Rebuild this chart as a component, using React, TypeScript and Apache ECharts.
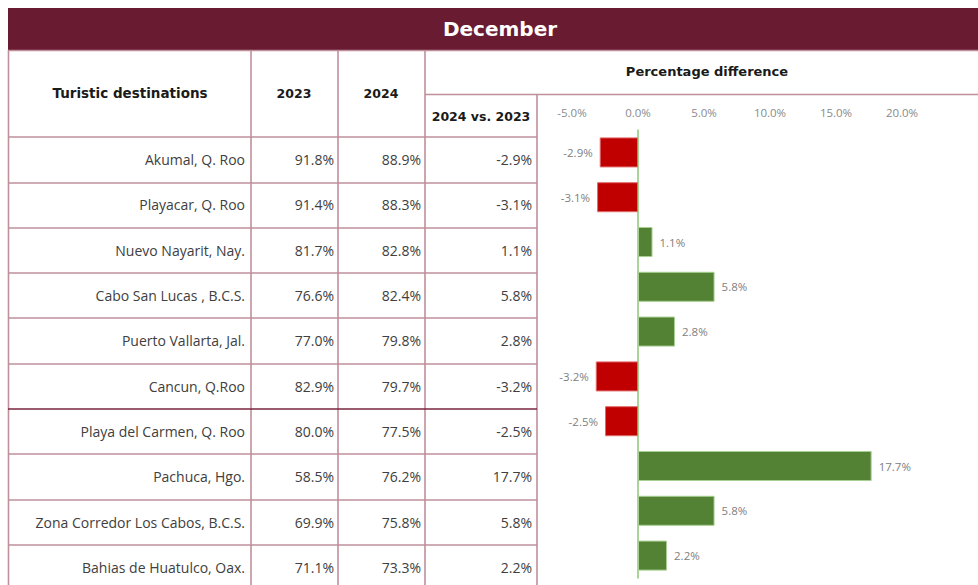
import React, { useEffect, useRef } from "react";
import * as echarts from "echarts";

const destinations = [
  "Akumal, Q. Roo",
  "Playacar, Q. Roo",
  "Nuevo Nayarit, Nay.",
  "Cabo San Lucas , B.C.S.",
  "Puerto Vallarta, Jal.",
  "Cancun, Q.Roo",
  "Playa del Carmen, Q. Roo",
  "Pachuca, Hgo.",
  "Zona Corredor Los Cabos, B.C.S.",
  "Bahias de Huatulco, Oax.",
];
const occ2023 = [91.8, 91.4, 81.7, 76.6, 77.0, 82.9, 80.0, 58.5, 69.9, 71.1];
const occ2024 = [88.9, 88.3, 82.8, 82.4, 79.8, 79.7, 77.5, 76.2, 75.8, 73.3];
const diffs = [-2.9, -3.1, 1.1, 5.8, 2.8, -3.2, -2.5, 17.7, 5.8, 2.2];
const axisMin = -5;
const axisMax = 25;
const axisStep = 5;

const FONT = "'Open Sans', sans-serif";
const HEAD_FONT = "'DejaVu Sans', sans-serif";
const MAROON = "#691b31";
const BORDER = "#bf8f9c";
const BORDER_DARK = "#7a2640";
const RED = "#c00000";
const GREEN = "#548235";

const pct = (v: number) => v.toFixed(1) + "%";

export default function App() {
  const ref = useRef<HTMLDivElement>(null);
  useEffect(() => {
    document.body.style.margin = "0";
    const chart = echarts.init(ref.current!, null, { renderer: "svg" });

    const splitColors = destinations.map((_, i) => (i === 6 ? BORDER_DARK : BORDER));
    splitColors.push(BORDER);

    const tableAxis = (
      offset: number,
      margin: number,
      fmt: (i: number) => string,
      withSplit: boolean
    ) => ({
      type: "category",
      gridIndex: 1,
      data: destinations,
      inverse: true,
      position: "left",
      offset,
      axisLine: { show: false },
      axisTick: { show: false },
      axisLabel: {
        margin,
        color: "#404040",
        fontSize: 14,
        fontFamily: FONT,
        formatter: (_v: string, i: number) => fmt(i),
      },
      splitLine: withSplit
        ? { show: true, lineStyle: { color: splitColors, width: 1.6 } }
        : { show: false },
    });

    const vLine = (x: number, y1: number, y2: number) => ({
      type: "line",
      shape: { x1: x, y1, x2: x, y2 },
      style: { stroke: BORDER, lineWidth: 1.6 },
      silent: true,
    });
    const hLine = (y: number, x1: number, x2: number) => ({
      type: "line",
      shape: { x1, y1: y, x2, y2: y },
      style: { stroke: BORDER, lineWidth: 1.6 },
      silent: true,
    });
    const headText = (x: number, y: number, text: string, size = 12.5, color = "#1a1a1a") => ({
      type: "text",
      x,
      y,
      style: {
        text,
        fill: color,
        font: `bold ${size}px ${HEAD_FONT}`,
        align: "center",
        verticalAlign: "middle",
      },
      silent: true,
    });

    chart.setOption({
      animation: false,
      backgroundColor: "#ffffff",
      grid: [
        { left: 572, top: 130, width: 396, height: 448, containLabel: false, outerBoundsMode: "none" },
        { left: 8, top: 137, width: 529, height: 453, containLabel: false, outerBoundsMode: "none" },
      ],
      xAxis: [
        {
          type: "value",
          gridIndex: 0,
          position: "top",
          min: axisMin,
          max: axisMax,
          interval: axisStep,
          axisLine: { show: false },
          axisTick: { show: false },
          splitLine: { show: false },
          axisLabel: {
            margin: 12,
            color: "#8a8a8a",
            fontSize: 11.5,
            fontFamily: FONT,
            showMaxLabel: false,
            formatter: (v: number) => pct(v),
          },
        },
        { type: "value", gridIndex: 1, min: 0, max: 1, show: false },
      ],
      yAxis: [
        {
          type: "category",
          gridIndex: 0,
          data: destinations,
          inverse: true,
          axisLine: { show: true, onZero: true, lineStyle: { color: "#8cc77a", width: 1.5 } },
          axisTick: { show: false },
          axisLabel: { show: false },
          splitLine: { show: false },
        },
        tableAxis(-240, 3, (i) => destinations[i], true),
        tableAxis(-330, 4, (i) => pct(occ2023[i]), false),
        tableAxis(-417, 4, (i) => pct(occ2024[i]), false),
        tableAxis(-529, 5, (i) => pct(diffs[i]), false),
      ],
      series: [
        {
          type: "bar",
          xAxisIndex: 0,
          yAxisIndex: 0,
          barCategoryGap: "33%",
          data: diffs.map((v) => ({
            value: v,
            itemStyle: {
              color: v < 0 ? RED : GREEN,
              borderColor: v < 0 ? "#e06a6a" : "#a6cf92",
              borderWidth: 1,
            },
            label: { position: v < 0 ? "left" : "right" },
          })),
          label: {
            show: true,
            distance: 7,
            color: "#808080",
            fontSize: 11.5,
            fontFamily: FONT,
            formatter: (p: any) => pct(p.value),
          },
        },
      ],
      graphic: [
        {
          type: "rect",
          shape: { x: 8, y: 8, width: 990, height: 42 },
          style: { fill: MAROON },
          silent: true,
        },
        headText(500, 29, "December", 20, "#ffffff"),
        hLine(50.5, 8, 978),
        hLine(94.5, 425, 978),
        vLine(8.5, 50, 585),
        vLine(251, 50, 585),
        vLine(338, 50, 585),
        vLine(425, 50, 585),
        vLine(537, 94, 585),
        headText(130, 93, "Turistic destinations", 13.5),
        headText(294, 93, "2023"),
        headText(381, 93, "2024"),
        headText(707, 71, "Percentage difference", 13),
        headText(481, 116, "2024 vs. 2023"),
      ],
    });
    return () => chart.dispose();
  }, []);
  return <div ref={ref} style={{ width: 978, height: 585 }} />;
}
